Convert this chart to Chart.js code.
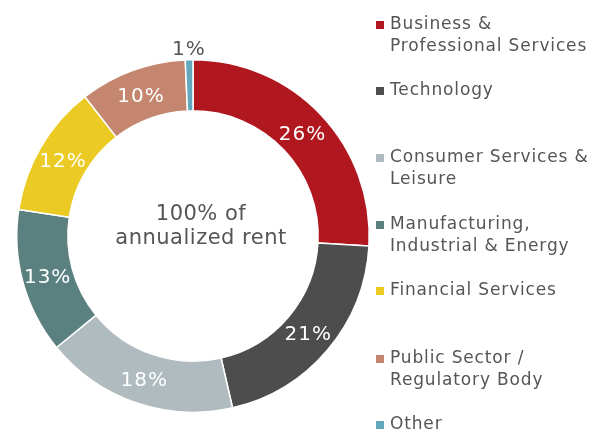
<!DOCTYPE html>
<html>
<head>
<meta charset="utf-8">
<script src="https://cdn.jsdelivr.net/npm/chart.js@4/dist/chart.umd.min.js"></script>
<style>
  html, body { margin: 0; padding: 0; background: #fff; }
  #wrap { position: relative; width: 594px; height: 430px; overflow: hidden; }
  #c { position: absolute; left: 0; top: 0; }
  .lg { position: absolute; left: 376px; font-family: "DejaVu Sans", Verdana, sans-serif;
        font-size: 17px; line-height: 22px; color: #555555; letter-spacing: 0.85px; white-space: nowrap; }
  .lg .sw { position: absolute; left: 0; top: 9px; width: 8px; height: 8px; }
  .lg .tx { position: absolute; left: 14px; top: 0; }
</style>
</head>
<body>
<div id="wrap">
  <canvas id="c" width="594" height="430"></canvas>
</div>
<script>
// ---- data ----
const categories = [
  ["Business &", "Professional Services"],
  ["Technology"],
  ["Consumer Services &", "Leisure"],
  ["Manufacturing,", "Industrial & Energy"],
  ["Financial Services"],
  ["Public Sector /", "Regulatory Body"],
  ["Other"]
];
const shares = [25.9, 20.5, 17.7, 13.3, 12.1, 9.8, 0.7];
const shareLabels = ["26%", "21%", "18%", "13%", "12%", "10%", "1%"];
const colors = ["#B1171F", "#4D4D4D", "#B0BBBF", "#5B8080", "#EBCB23", "#C4866E", "#63A8BD"];
const centerLines = ["100% of", "annualized rent"];

// ---- layout (legend row tops) ----
const legendTops = [11.5, 78, 144.5, 212, 278, 345.5, 412];

const wrap = document.getElementById('wrap');
categories.forEach((lines, i) => {
  const d = document.createElement('div');
  d.className = 'lg';
  d.style.top = legendTops[i] + 'px';
  const sw = document.createElement('div');
  sw.className = 'sw';
  sw.style.background = colors[i];
  const tx = document.createElement('div');
  tx.className = 'tx';
  tx.innerHTML = lines.map(s => s.replace(/&/g, '&amp;')).join('<br>');
  d.appendChild(sw); d.appendChild(tx);
  wrap.appendChild(d);
});

const labelPlugin = {
  id: 'sliceLabels',
  afterDatasetsDraw(chart) {
    const ctx = chart.ctx;
    const meta = chart.getDatasetMeta(0);
    ctx.save();
    ctx.textAlign = 'center';
    ctx.textBaseline = 'middle';
    meta.data.forEach((arc, i) => {
      const p = arc.getProps(['x', 'y', 'startAngle', 'endAngle', 'innerRadius', 'outerRadius'], true);
      const mid = (p.startAngle + p.endAngle) / 2;
      const small = shares[i] < 3;
      const r = small ? p.outerRadius + 12 : (p.innerRadius + p.outerRadius) / 2;
      const x = p.x + Math.cos(mid) * r;
      const y = p.y + Math.sin(mid) * r + 2;
      ctx.font = '20px "DejaVu Sans", Verdana, sans-serif';
      try { ctx.letterSpacing = '1px'; } catch (e) {}
      ctx.fillStyle = small ? '#555555' : '#ffffff';
      ctx.fillText(shareLabels[i], x, y);
    });
    // center text
    const c = meta.data[0];
    ctx.fillStyle = '#555555';
    ctx.font = '21px "DejaVu Sans", Verdana, sans-serif';
    try { ctx.letterSpacing = '0.5px'; } catch (e) {}
    ctx.textBaseline = 'alphabetic';
    ctx.fillText(centerLines[0], c.x + 8, c.y - 16);
    ctx.fillText(centerLines[1], c.x + 8, c.y + 8);
    ctx.restore();
  }
};

new Chart(document.getElementById('c'), {
  type: 'doughnut',
  data: {
    labels: categories.map(l => l.join(' ')),
    datasets: [{
      data: shares,
      backgroundColor: colors,
      borderColor: '#ffffff',
      borderWidth: 1.5
    }]
  },
  options: {
    responsive: false,
    animation: false,
    cutout: '71%',
    layout: { padding: { left: 16, top: 59, right: 224, bottom: 17 } },
    plugins: { legend: { display: false }, tooltip: { enabled: false } }
  },
  plugins: [labelPlugin]
});
</script>
</body>
</html>
